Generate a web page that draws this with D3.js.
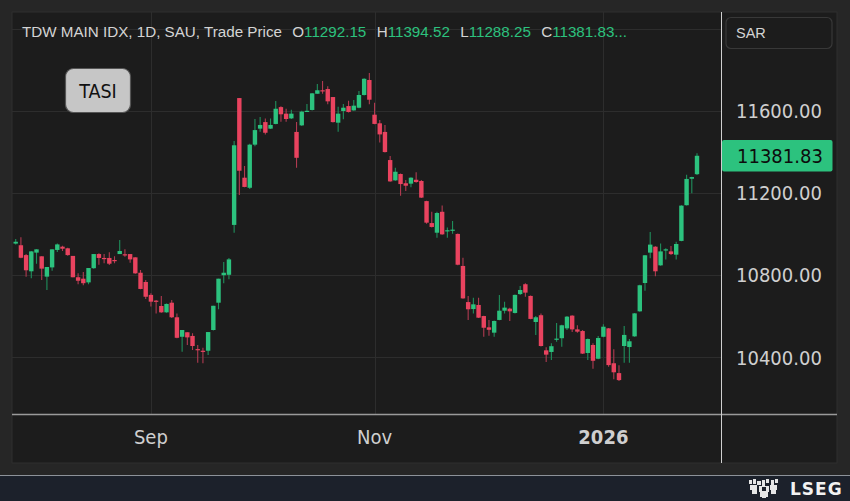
<!DOCTYPE html>
<html><head><meta charset="utf-8">
<script src="https://cdn.jsdelivr.net/npm/d3@7"></script>
<style>html,body{margin:0;padding:0;background:#262626;overflow:hidden}</style>
</head><body><svg id="c" width="850" height="501"></svg>
<script>
const openV=[10954,10946,10898,10819,10910,10892,10793,10838,10923,10939,10931,10894,10790,10783,10765,10834,10903,10884,10884,10874,10903,10902,10903,10887,10812,10767,10704,10676,10650,10619,10666,10595,10500,10522,10504,10440,10432,10432,10533,10666,10800,10802,11045,11663,11275,11226,11436,11514,11546,11514,11537,11619,11587,11564,11498,11530,11598,11605,11684,11701,11707,11668,11543,11600,11624,11603,11616,11678,11751,11582,11540,11498,11361,11262,11293,11248,11246,11265,11259,11161,11054,11007,11109,11015,11019,11001,10845,10669,10635,10655,10601,10546,10520,10582,10627,10637,10616,10708,10756,10699,10572,10605,10434,10426,10486,10493,10541,10603,10536,10528,10421,10460,10393,10500,10541,10371,10323,10455,10450,10502,10624,10762,10910,10939,10848,10921,10916,10900,10967,11141,11270,11292.15];
const highV=[10976,10985,10903,10918,10926,10892,10840,10926,10955,10944,10934,10894,10809,10816,10835,10903,10907,10903,10912,10892,10971,10926,10903,10887,10825,10777,10712,10679,10699,10662,10679,10614,10533,10522,10517,10460,10447,10523,10651,10783,10864,10884,11454,11663,11332,11441,11561,11571,11564,11564,11649,11623,11611,11606,11546,11601,11634,11688,11732,11746,11720,11668,11621,11634,11650,11654,11697,11759,11785,11640,11556,11532,11381,11324,11295,11264,11277,11301,11264,11163,11109,11109,11139,11033,11064,11003,10885,10699,10690,10690,10603,10582,10579,10704,10671,10642,10706,10747,10761,10701,10601,10614,10449,10468,10567,10558,10601,10605,10556,10533,10491,10468,10504,10561,10543,10439,10361,10552,10489,10616,10753,10899,11010,10941,10955,10931,10942,10963,11141,11290,11280,11394.52];
const lowV=[10949,10882,10793,10785,10856,10777,10728,10822,10913,10918,10895,10790,10756,10751,10756,10831,10851,10858,10850,10858,10903,10890,10861,10807,10731,10684,10647,10614,10617,10617,10591,10493,10427,10460,10436,10374,10371,10411,10531,10634,10761,10780,11007,11191,11228,11220,11428,11499,11485,11512,11535,11548,11548,11561,11324,11527,11597,11603,11684,11684,11633,11544,11499,11560,11593,11601,11614,11676,11633,11535,11447,11398,11255,11260,11187,11210,11228,11251,11176,11051,11033,10983,10997,10983,11002,10849,10685,10582,10614,10591,10500,10505,10500,10580,10614,10577,10614,10704,10695,10585,10509,10453,10377,10387,10476,10452,10533,10523,10520,10416,10387,10344,10391,10498,10354,10293,10285,10374,10374,10500,10622,10724,10882,10795,10846,10877,10898,10877,10965,11139,11199,11288.25];
const closeV=[10963,10885,10824,10916,10926,10832,10840,10926,10950,10929,10898,10790,10773,10761,10835,10903,10884,10879,10856,10871,10918,10898,10877,10809,10733,10695,10671,10673,10619,10660,10595,10495,10533,10497,10455,10437,10429,10523,10651,10783,10812,10877,11433,11309,11230,11436,11507,11532,11494,11532,11611,11584,11561,11587,11372,11597,11601,11686,11701,11696,11647,11546,11587,11616,11595,11626,11678,11757,11655,11537,11486,11400,11257,11304,11244,11236,11275,11254,11178,11056,11035,11103,10999,11019,11022,10851,10687,10634,10658,10593,10544,10534,10577,10627,10642,10624,10704,10728,10715,10587,10595,10455,10413,10454,10491,10556,10598,10536,10525,10418,10489,10383,10494,10549,10362,10327,10289,10509,10478,10614,10751,10897,10949,10819,10916,10926,10903,10952,11139,11269,11278,11381.83];
const startDate="2025-07-27";
const holidays=["2025-09-23"];
const yTicks=[10400,10800,11200,11600];
const yGrid=[10400,10800,11200,11600,12000];
const xTickMonths=["2025-09","2025-11","2026-01"];
const xTickLabels=["Sep","Nov","2026"];
const xTickBold=[false,false,true];
const headerTitle="TDW MAIN IDX, 1D, SAU, Trade Price";
const currency="SAR";
const badge="TASI";
const brand="LSEG";

// trading days (Sun-Thu)
const dates=[];
let dd=new Date(startDate+"T00:00:00Z");
while(dates.length<closeV.length){
  const iso=dd.toISOString().slice(0,10);
  if(dd.getUTCDay()<=4 && !holidays.includes(iso)) dates.push(iso);
  dd=new Date(dd.getTime()+86400000);
}
const data=closeV.map((c,i)=>({i,date:dates[i],o:openV[i],h:highV[i],l:lowV[i],c}));

const GREEN="#2cc27e",RED="#e9435f",GWICK="#1f8f5c",RWICK="#b03a50";
const svg=d3.select("#c");
const x=d3.scaleLinear().domain([0,data.length-1]).range([15.7,697]);
const y=d3.scaleLinear().domain([10400,11600]).range([357.3,111]);
const fmt=d3.format(".2f");

svg.append("rect").attr("width",850).attr("height",501).attr("fill","#262626");
svg.append("rect").attr("x",12).attr("y",12).attr("width",825).attr("height",451).attr("fill","#1c1c1c").attr("stroke","#2e2e2e");

svg.append("defs").append("clipPath").attr("id","pc").append("rect").attr("x",12).attr("y",12).attr("width",709.5).attr("height",402.5);
const plot=svg.append("g").attr("clip-path","url(#pc)");

plot.selectAll("line.hg").data(yGrid).join("line").attr("class","hg")
  .attr("x1",12).attr("x2",721).attr("y1",d=>Math.round(y(d))+0.5).attr("y2",d=>Math.round(y(d))+0.5)
  .attr("stroke","#2d2d2d").attr("stroke-width",1);
const tickIdx=xTickMonths.map(m=>dates.findIndex(dt=>dt.slice(0,7)===m));
plot.selectAll("line.vg").data(tickIdx).join("line").attr("class","vg")
  .attr("x1",d=>Math.round(x(d))+0.5).attr("x2",d=>Math.round(x(d))+0.5).attr("y1",12).attr("y2",414)
  .attr("stroke","#2d2d2d").attr("stroke-width",1);

const cg=plot.selectAll("g.cd").data(data).join("g").attr("class","cd");
cg.append("line").attr("x1",d=>x(d.i)).attr("x2",d=>x(d.i)).attr("y1",d=>y(d.h)).attr("y2",d=>y(d.l))
  .attr("stroke",d=>d.c>=d.o?GWICK:RWICK).attr("stroke-width",1.1);
cg.append("rect").attr("x",d=>x(d.i)-2.2).attr("width",4.4)
  .attr("y",d=>y(Math.max(d.o,d.c))).attr("height",d=>Math.max(1.2,Math.abs(y(d.o)-y(d.c))))
  .attr("fill",d=>d.c>=d.o?GREEN:RED);

// axes lines
svg.append("line").attr("x1",12).attr("x2",837).attr("y1",414.5).attr("y2",414.5).attr("stroke","#9a9a9a").attr("stroke-width",1.5);
svg.append("line").attr("x1",721.5).attr("x2",721.5).attr("y1",12).attr("y2",463).attr("stroke","#cfcfcf").attr("stroke-width",1);

const axisFont="'DejaVu Sans Condensed','DejaVu Sans',sans-serif";
svg.selectAll("text.yl").data(yTicks).join("text").attr("class","yl")
  .attr("x",736).attr("y",d=>y(d)).attr("dy","0.36em")
  .attr("font-family",axisFont).attr("font-stretch","condensed").attr("font-size",20).attr("fill","#cfcfcf").text(d=>fmt(d));

svg.selectAll("text.xl").data(tickIdx).join("text").attr("class","xl")
  .attr("x",d=>x(d)).attr("y",437).attr("dy","0.36em").attr("text-anchor","middle")
  .attr("font-family",axisFont).attr("font-stretch","condensed").attr("font-size",20)
  .attr("font-weight",(d,i)=>xTickBold[i]?"bold":"normal").attr("fill","#cfcfcf").text((d,i)=>xTickLabels[i]);

// last price label
const last=data[data.length-1];
const ly=y(last.c);
svg.append("rect").attr("x",722).attr("y",ly-15.8).attr("width",110.5).attr("height",31.6).attr("rx",2).attr("fill",GREEN);
svg.append("text").attr("x",737).attr("y",ly).attr("dy","0.36em").attr("font-family",axisFont).attr("font-stretch","condensed")
  .attr("font-size",20).attr("fill","#0d0d0d").text(fmt(last.c));

// currency box
svg.append("rect").attr("x",726).attr("y",17.5).attr("width",106).attr("height",31).attr("rx",5).attr("fill","#1c1c1c").attr("stroke","#383838").attr("stroke-width",1.2);
svg.append("text").attr("x",736).attr("y",33).attr("dy","0.36em").attr("font-family","'Liberation Sans',Arial,sans-serif").attr("font-size",14.5).attr("fill","#d4d4d4").text(currency);

// header
const hf="'Liberation Sans',Arial,sans-serif";
const hdr=svg.append("text").attr("x",22).attr("y",32).attr("dy","0.36em").attr("font-family",hf).attr("font-size",15.2).attr("fill","#d4d4d4");
hdr.append("tspan").text(headerTitle);
const parts=[["O",last.o],["H",last.h],["L",last.l],["C",last.c]];
parts.forEach(([k,v],j)=>{
  hdr.append("tspan").attr("dx","0.68em").attr("fill","#d4d4d4").text(k);
  hdr.append("tspan").attr("fill","#2cc27e").text(fmt(v)+(j===3?"...":""));
});

// badge
svg.append("rect").attr("x",65.5).attr("y",68.5).attr("width",65).attr("height",44).attr("rx",8).attr("fill","#c6c6c6").attr("stroke","#555").attr("stroke-width",1.2);
svg.append("text").attr("x",98).attr("y",90.5).attr("dy","0.36em").attr("text-anchor","middle").attr("font-family",axisFont).attr("font-stretch","condensed").attr("font-size",19.5).attr("fill","#111").text(badge);

// footer
svg.append("rect").attr("x",0).attr("y",475).attr("width",850).attr("height",26).attr("fill","#1c212b");
svg.append("line").attr("x1",0).attr("x2",850).attr("y1",475.5).attr("y2",475.5).attr("stroke","#8d9299").attr("stroke-width",1);
const lg=svg.append("g").attr("transform","translate(747,478)").attr("fill","#e6e6e6");
[[2,2,3,4],[6,1,3,5],[10,3,4,4],[15,2,3,6],[19,1,3,4],[24,2,3,5],[28,1,3,4],[3,7,7,5],[12,8,10,6],[23,7,7,5],[5,12,5,4],[13,14,8,5],[24,12,5,4],[15,18,4,2]].forEach(r=>{
  lg.append("rect").attr("x",r[0]).attr("y",r[1]).attr("width",r[2]).attr("height",r[3]);
});
lg.append("rect").attr("x",15).attr("y",9).attr("width",4).attr("height",4).attr("fill","#1c212b");
svg.append("text").attr("x",790).attr("y",488.5).attr("dy","0.36em").attr("font-family","'DejaVu Sans',sans-serif").attr("font-weight","bold").attr("font-size",17).attr("letter-spacing",1).attr("fill","#f2f2f2").text(brand);
</script></body></html>
